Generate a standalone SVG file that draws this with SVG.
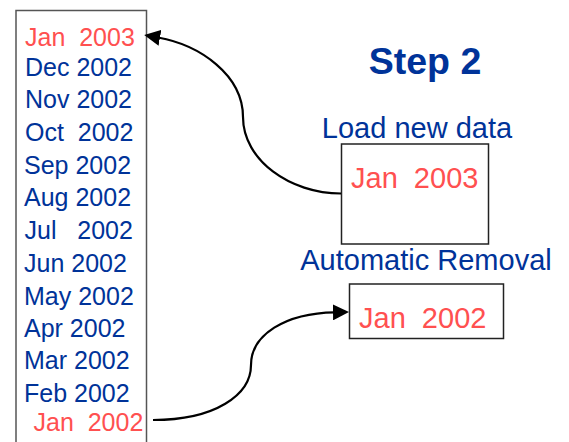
<svg xmlns="http://www.w3.org/2000/svg" width="569" height="442" viewBox="0 0 569 442">
<style>
text{font-family:"Liberation Sans",Arial,sans-serif;white-space:pre}
.b{fill:#003399}
.r{fill:#FF5050}
.l{font-size:25px}
.m{font-size:29px}
.box{fill:#fff;stroke-width:1.5}
.conn{fill:none;stroke:#000;stroke-width:2.2}
</style>
<defs>
<marker id="ah" viewBox="0 0 16 16" refX="2" refY="8" markerWidth="16" markerHeight="16" markerUnits="userSpaceOnUse" orient="auto">
<path d="M0,0 L16,8 L0,16 z" fill="#000"/>
</marker>
</defs>
<rect width="569" height="442" fill="#fff"/>
<g id="list">
<rect class="box" x="16" y="10.5" width="130.5" height="445" stroke="#555"/>
<text class="l r" x="25" y="46" xml:space="preserve">Jan  2003</text>
<text class="l b" x="25" y="76">Dec 2002</text>
<text class="l b" x="25" y="108">Nov 2002</text>
<text class="l b" x="25" y="141" xml:space="preserve">Oct  2002</text>
<text class="l b" x="24" y="174">Sep 2002</text>
<text class="l b" x="24" y="206">Aug 2002</text>
<text class="l b" x="24.5" y="239" xml:space="preserve">Jul   2002</text>
<text class="l b" x="24" y="272">Jun 2002</text>
<text class="l b" x="24" y="305">May 2002</text>
<text class="l b" x="24" y="337">Apr 2002</text>
<text class="l b" x="24" y="369">Mar 2002</text>
<text class="l b" x="24" y="402">Feb 2002</text>
<text class="l r" x="33.5" y="431" xml:space="preserve">Jan  2002</text>
</g>
<g id="title">
<text class="b" x="425" y="74" text-anchor="middle" font-size="37.5" font-weight="bold">Step 2</text>
</g>
<g id="load">
<text class="m b" x="417" y="138" text-anchor="middle">Load new data</text>
<rect class="box" x="341.5" y="144" width="147" height="100" stroke="#222"/>
<text class="m r" x="351" y="188" xml:space="preserve">Jan  2003</text>
</g>
<g id="removal">
<text class="m b" x="426" y="270" text-anchor="middle">Automatic Removal</text>
<rect class="box" x="349.5" y="284" width="154" height="54.5" stroke="#222"/>
<text class="m r" x="359" y="328" xml:space="preserve">Jan  2002</text>
</g>
<g id="connectors">
<path class="conn" d="M341,193.5 C290,193.5 243,160 243,117 C243,75 200,45 158,37.5" marker-end="url(#ah)"/>
<path class="conn" d="M153,420 C215,420 251,395 251,365 C251,335 285,313 335,312.3" marker-end="url(#ah)"/>
</g>
</svg>
